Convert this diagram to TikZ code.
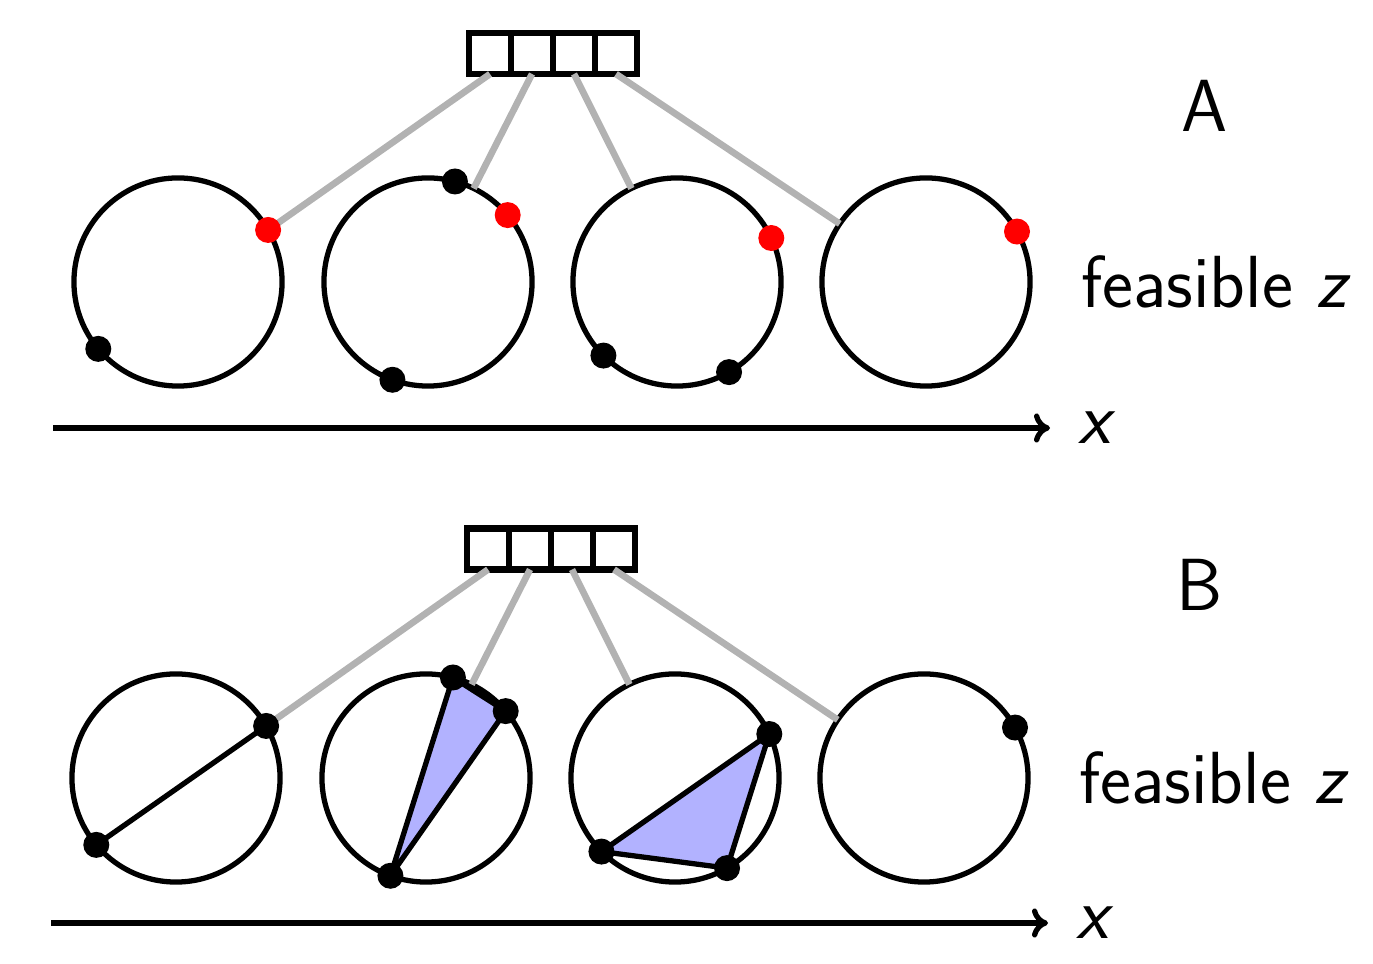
\documentclass[tikz,border=0pt]{standalone}
\usetikzlibrary{arrows.meta}
\begin{document}
\sffamily
\begin{tikzpicture}[x=0.01cm, y=0.01cm,
    ring/.style={circle, draw, line width=1.5pt, minimum size=2.08cm, inner sep=0pt, outer sep=0pt},
    cell/.style={rectangle, draw, line width=1.9pt, minimum width=0.42cm, minimum height=0.41cm, inner sep=0pt, outer sep=0pt},
    wire/.style={line width=1.9pt, color=black!30},
    axis/.style={line width=1.5pt, -{To[length=1.6mm, width=2.9mm]}},
    chord/.style={line width=1.5pt},
    hull/.style={line width=1.5pt, line join=round, fill=blue!30},
    every node/.style={font=\fontsize{21}{25}\selectfont}
    ]

\useasboundingbox (0,0) rectangle (1373,964);

% panel A
\node[cell] (ta1) at (490,910.5) {};
\node[cell] (ta2) at (532,910.5) {};
\node[cell] (ta3) at (574,910.5) {};
\node[cell] (ta4) at (616,910.5) {};

\node[ring] (ca1) at (178,682) {};
\node[ring] (ca2) at (428,682) {};
\node[ring] (ca3) at (677,682) {};
\node[ring] (ca4) at (926,682) {};

\draw[wire] (ta1.south) -- (ca1.30);
\draw[wire] (ta2.south) -- (ca2.64);
\draw[wire] (ta3.south) -- (ca3.116);
\draw[wire] (ta4.south) -- (ca4.146);

\fill[red] (ca1.30) circle (13);
\fill (ca1.220) circle (13);

\fill (ca2.75) circle (13);
\fill[red] (ca2.40) circle (13);
\fill (ca2.250) circle (13);

\fill[red] (ca3.25) circle (13);
\fill (ca3.225) circle (13);
\fill (ca3.300) circle (13);

\fill[red] (ca4.29) circle (13);

\coordinate (oA) at (53,536);
\coordinate (eA) at (1050,536);
\draw[axis] (oA) -- (eA);
\node (xA) at (1097,536) {\textit{x}};

\node (A) at (1205,858.5) {A};
\node (feasA) at (1216,682.5) {feasible \textit{z}};

% panel B
\node[cell] (tb1) at (488,415) {};
\node[cell] (tb2) at (530,415) {};
\node[cell] (tb3) at (572,415) {};
\node[cell] (tb4) at (614,415) {};

\node[ring] (cb1) at (176,186) {};
\node[ring] (cb2) at (426,186) {};
\node[ring] (cb3) at (675,186) {};
\node[ring] (cb4) at (924,186) {};

\draw[wire] (tb1.south) -- (cb1.30);
\draw[wire] (tb2.south) -- (cb2.64);
\draw[wire] (tb3.south) -- (cb3.116);
\draw[wire] (tb4.south) -- (cb4.146);

\draw[chord] (cb1.30) -- (cb1.220);
\filldraw[hull] (cb2.75) -- (cb2.40) -- (cb2.250) -- cycle;
\filldraw[hull] (cb3.25) -- (cb3.300) -- (cb3.225) -- cycle;

\fill (cb1.30) circle (13);
\fill (cb1.220) circle (13);

\fill (cb2.75) circle (13);
\fill (cb2.40) circle (13);
\fill (cb2.250) circle (13);

\fill (cb3.25) circle (13);
\fill (cb3.225) circle (13);
\fill (cb3.300) circle (13);

\fill (cb4.29) circle (13);

\coordinate (oB) at (51,41);
\coordinate (eB) at (1048,41);
\draw[axis] (oB) -- (eB);
\node (xB) at (1095,41) {\textit{x}};

\node (B) at (1200,379) {B};
\node (feasB) at (1214,186.5) {feasible \textit{z}};

\end{tikzpicture}
\end{document}
